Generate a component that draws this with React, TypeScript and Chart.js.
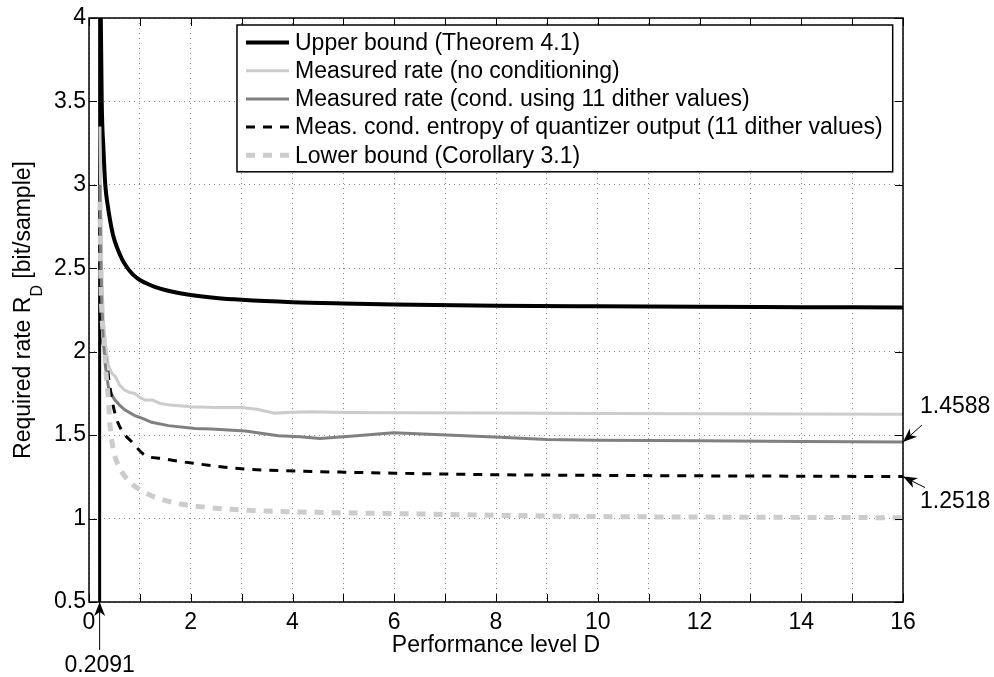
import { useEffect, useRef } from 'react';
import { Chart, registerables } from 'chart.js';
Chart.register(...registerables);

const FONT = '"Liberation Sans", Arial, Helvetica, sans-serif';

// Axis ticks
const xLabeledTicks = [0, 2, 4, 6, 8, 10, 12, 14, 16];
const yTickLabels = ['0.5', '1', '1.5', '2', '2.5', '3', '3.5', '4'];

// Vertical asymptote of the upper bound at D = 0.2091
const asymptoteD = [0.2091, 0.2091];
const asymptoteR = [0.5, 5.0];

// Upper bound (Theorem 4.1)
const upperD = [0.214, 0.232, 0.25, 0.285, 0.32, 0.364, 0.413, 0.472, 0.55, 0.649, 0.747, 0.865, 1.0, 1.2, 1.4, 1.6, 2, 2.5, 3, 4, 5, 6, 8, 10, 12, 14, 16];
const upperR = [5.2, 4.0, 3.5, 3.21, 3.0, 2.885, 2.79, 2.7, 2.625, 2.555, 2.505, 2.462, 2.43, 2.4, 2.378, 2.362, 2.34, 2.322, 2.311, 2.297, 2.289, 2.283, 2.276, 2.272, 2.269, 2.267, 2.265];

// Measured rate (no conditioning)
const noCondD = [0.215, 0.23, 0.25, 0.28, 0.32, 0.38, 0.45, 0.52, 0.6, 0.7, 0.8, 0.9, 1.0, 1.1, 1.25, 1.4, 1.6, 2.0, 2.5, 3.0, 3.3, 3.65, 4.0, 4.4, 5, 6, 8, 10, 12, 14, 16];
const noCondR = [3.35, 2.9, 2.5, 2.2, 2.05, 1.92, 1.87, 1.85, 1.8, 1.77, 1.755, 1.75, 1.725, 1.71, 1.71, 1.69, 1.68, 1.67, 1.665, 1.665, 1.655, 1.632, 1.637, 1.64, 1.636, 1.634, 1.632, 1.63, 1.628, 1.627, 1.625];

// Measured rate (cond. using 11 dither values)
const condD = [0.215, 0.23, 0.25, 0.28, 0.32, 0.38, 0.45, 0.51, 0.6, 0.71, 0.9, 1.05, 1.23, 1.56, 2.08, 2.41, 3.07, 3.72, 4.15, 4.54, 5.2, 5.98, 7.03, 8.08, 9, 10, 12, 14, 16];
const condR = [3.0, 2.6, 2.3, 2.07, 1.92, 1.79, 1.74, 1.71, 1.68, 1.65, 1.617, 1.6, 1.577, 1.557, 1.54, 1.537, 1.525, 1.497, 1.49, 1.48, 1.495, 1.515, 1.501, 1.487, 1.474, 1.47, 1.466, 1.462, 1.4588];

// Meas. cond. entropy of quantizer output (11 dither values)
const entropyD = [0.215, 0.23, 0.25, 0.3, 0.35, 0.41, 0.51, 0.64, 0.84, 1.1, 1.43, 2.08, 3.07, 4.05, 5, 6, 8, 10, 12, 14, 16];
const entropyR = [2.9, 2.5, 2.15, 2.02, 1.93, 1.79, 1.63, 1.53, 1.46, 1.38, 1.36, 1.33, 1.297, 1.285, 1.278, 1.272, 1.263, 1.259, 1.256, 1.254, 1.2518];

// Lower bound (Corollary 3.1)
const lowerD = [0.215, 0.23, 0.25, 0.3, 0.34, 0.38, 0.41, 0.48, 0.61, 0.8, 1.1, 1.43, 1.75, 2.08, 3.07, 4.05, 6, 8, 10, 12, 14, 16];
const lowerR = [2.9, 2.5, 2.25, 2.05, 1.85, 1.72, 1.57, 1.41, 1.3, 1.22, 1.155, 1.115, 1.09, 1.075, 1.05, 1.04, 1.03, 1.02, 1.012, 1.009, 1.007, 1.005];

// Annotations
const annotD = 0.2091;
const annotEndD = 16;
const annotRateCond = 1.4588;
const annotRateEntropy = 1.2518;

const pts = (xs: number[], ys: number[]) => xs.map((x, i) => ({ x, y: ys[i] }));

function drawArrow(ctx: CanvasRenderingContext2D, x0: number, y0: number, x1: number, y1: number) {
  ctx.save();
  ctx.strokeStyle = '#000';
  ctx.fillStyle = '#000';
  ctx.lineWidth = 1;
  ctx.beginPath();
  ctx.moveTo(x0, y0);
  ctx.lineTo(x1, y1);
  ctx.stroke();
  const ang = Math.atan2(y1 - y0, x1 - x0);
  const L = 14, W = 5.5, N = 10;
  const ux = Math.cos(ang), uy = Math.sin(ang);
  const px = -uy, py = ux;
  ctx.beginPath();
  ctx.moveTo(x1, y1);
  ctx.lineTo(x1 - ux * L + px * W, y1 - uy * L + py * W);
  ctx.lineTo(x1 - ux * N, y1 - uy * N);
  ctx.lineTo(x1 - ux * L - px * W, y1 - uy * L - py * W);
  ctx.closePath();
  ctx.fill();
  ctx.restore();
}

const extrasPlugin = {
  id: 'extras',
  afterDatasetsDraw(chart: any) {
    const { ctx, chartArea: a, scales } = chart;
    const xs = scales.x, ys = scales.y;
    ctx.save();
    // inward ticks
    ctx.strokeStyle = '#000';
    ctx.lineWidth = 1;
    const tl = 8;
    ctx.beginPath();
    xs.ticks.forEach((t: any) => {
      const px = Math.round(xs.getPixelForValue(t.value)) + 0.5;
      ctx.moveTo(px, a.bottom); ctx.lineTo(px, a.bottom - tl);
      ctx.moveTo(px, a.top); ctx.lineTo(px, a.top + tl);
    });
    ys.ticks.forEach((t: any) => {
      const py = Math.round(ys.getPixelForValue(t.value)) + 0.5;
      ctx.moveTo(a.left, py); ctx.lineTo(a.left + tl, py);
      ctx.moveTo(a.right, py); ctx.lineTo(a.right - tl, py);
    });
    ctx.stroke();
    // box
    ctx.lineWidth = 1.5;
    ctx.strokeRect(a.left, a.top, a.right - a.left, a.bottom - a.top);
    ctx.restore();
  },
  afterDraw(chart: any) {
    const { ctx, chartArea: a, scales } = chart;
    const xs = scales.x, ys = scales.y;
    ctx.save();
    ctx.fillStyle = '#000';
    // x title
    ctx.font = `23px ${FONT}`;
    ctx.textAlign = 'center';
    ctx.textBaseline = 'alphabetic';
    ctx.fillText('Performance level D', (a.left + a.right) / 2, a.bottom + 50);
    // y title with subscript
    ctx.save();
    ctx.translate(30, (a.top + a.bottom) / 2);
    ctx.rotate(-Math.PI / 2);
    const p1 = 'Required rate R', sub = 'D', p2 = ' [bit/sample]';
    ctx.font = `23px ${FONT}`;
    const w1 = ctx.measureText(p1).width, w2 = ctx.measureText(p2).width;
    ctx.font = `16px ${FONT}`;
    const ws = ctx.measureText(sub).width;
    const start = -(w1 + ws + w2) / 2;
    ctx.textAlign = 'left';
    ctx.font = `23px ${FONT}`;
    ctx.fillText(p1, start, 0);
    ctx.font = `16px ${FONT}`;
    ctx.fillText(sub, start + w1, 12);
    ctx.font = `23px ${FONT}`;
    ctx.fillText(p2, start + w1 + ws, 0);
    ctx.restore();

    // annotations
    const ax = xs.getPixelForValue(annotD);
    drawArrow(ctx, ax, a.bottom + 48, ax, a.bottom);
    ctx.font = `23px ${FONT}`;
    ctx.textAlign = 'center';
    ctx.textBaseline = 'middle';
    ctx.fillText(String(annotD), ax, a.bottom + 64);

    const ex = xs.getPixelForValue(annotEndD);
    const y1 = ys.getPixelForValue(annotRateCond);
    drawArrow(ctx, ex + 19, y1 - 17, ex, y1);
    ctx.textAlign = 'left';
    ctx.fillText(annotRateCond.toFixed(4), ex + 17, y1 - 35);
    const y2 = ys.getPixelForValue(annotRateEntropy);
    drawArrow(ctx, ex + 22, y2 + 11, ex, y2);
    ctx.fillText(annotRateEntropy.toFixed(4), ex + 17, y2 + 25);

    // legend
    const items = chart.data.datasets.filter((d: any) => d.label);
    ctx.font = `23px ${FONT}`;
    const boxL = a.left + 148, boxT = a.top + 7;
    const lineX0 = boxL + 9, lineX1 = boxL + 52, textX = boxL + 58;
    const maxW = Math.max(...items.map((d: any) => ctx.measureText(d.label).width));
    const rowH = 28.2;
    const boxR = textX + maxW + 10;
    const boxB = boxT + 17.5 + rowH * (items.length - 1) + 16.5;
    ctx.fillStyle = '#fff';
    ctx.fillRect(boxL, boxT, boxR - boxL, boxB - boxT);
    ctx.strokeStyle = '#000';
    ctx.lineWidth = 1.5;
    ctx.strokeRect(boxL, boxT, boxR - boxL, boxB - boxT);
    items.forEach((d: any, i: number) => {
      const cy = boxT + 17.5 + i * rowH;
      ctx.save();
      ctx.strokeStyle = d.borderColor;
      ctx.lineWidth = d.borderWidth;
      ctx.setLineDash(d.borderDash || []);
      ctx.beginPath();
      ctx.moveTo(lineX0, cy);
      ctx.lineTo(lineX1, cy);
      ctx.stroke();
      ctx.restore();
      ctx.fillStyle = '#000';
      ctx.textAlign = 'left';
      ctx.textBaseline = 'middle';
      ctx.fillText(d.label, textX, cy + 1);
    });
    ctx.restore();
  },
};

export default function App() {
  const ref = useRef<HTMLCanvasElement | null>(null);
  useEffect(() => {
    if (!ref.current) return;
    const common = { pointRadius: 0, pointHoverRadius: 0, fill: false, clip: 0 as any };
    const chart = new Chart(ref.current, {
      type: 'line',
      data: {
        datasets: [
          { ...common, label: '', data: pts(asymptoteD, asymptoteR), borderColor: '#000', borderWidth: 3, order: 6 },
          { ...common, label: 'Upper bound (Theorem 4.1)', data: pts(upperD, upperR), borderColor: '#000', borderWidth: 4, cubicInterpolationMode: 'monotone', order: 5 },
          { ...common, label: 'Measured rate (no conditioning)', data: pts(noCondD, noCondR), borderColor: '#cccccc', borderWidth: 3, tension: 0, order: 4 },
          { ...common, label: 'Measured rate (cond. using 11 dither values)', data: pts(condD, condR), borderColor: '#808080', borderWidth: 3, tension: 0, order: 3 },
          { ...common, label: 'Meas. cond. entropy of quantizer output (11 dither values)', data: pts(entropyD, entropyR), borderColor: '#000', borderWidth: 3, borderDash: [9, 8], cubicInterpolationMode: 'monotone', order: 2 },
          { ...common, label: 'Lower bound (Corollary 3.1)', data: pts(lowerD, lowerR), borderColor: '#cccccc', borderWidth: 5, borderDash: [9, 8], cubicInterpolationMode: 'monotone', order: 1 },
        ] as any,
      },
      options: {
        responsive: false,
        animation: false,
        events: [],
        layout: { padding: { left: 0, top: 18, right: 91, bottom: 0 } },
        plugins: { legend: { display: false }, tooltip: { enabled: false }, title: { display: false } },
        scales: {
          x: {
            type: 'linear',
            min: 0,
            max: 16,
            afterFit: (s: any) => { s.height = 75; },
            ticks: {
              stepSize: 1,
              autoSkip: false,
              maxRotation: 0,
              padding: 7,
              color: '#000',
              font: { family: FONT, size: 23 },
              callback: (v: any) => (xLabeledTicks.includes(Number(v)) ? String(v) : ''),
            },
            grid: { color: '#8a8a8a', lineWidth: 1, drawTicks: false },
            border: { display: false, dash: [1, 4] },
          },
          y: {
            type: 'linear',
            min: 0.5,
            max: 4,
            afterFit: (s: any) => { s.width = 89; },
            ticks: {
              stepSize: 0.5,
              autoSkip: false,
              padding: 3,
              color: '#000',
              font: { family: FONT, size: 23 },
              callback: (v: any, i: number) => yTickLabels[i] ?? String(v),
            },
            grid: { color: '#8a8a8a', lineWidth: 1, drawTicks: false },
            border: { display: false, dash: [1, 4] },
          },
        },
      },
      plugins: [extrasPlugin],
    });
    return () => chart.destroy();
  }, []);
  return (
    <div style={{ position: 'fixed', left: 0, top: 0, width: 994, height: 677, background: '#fff' }}>
      <canvas ref={ref} width={994} height={677} style={{ display: 'block' }} />
    </div>
  );
}
